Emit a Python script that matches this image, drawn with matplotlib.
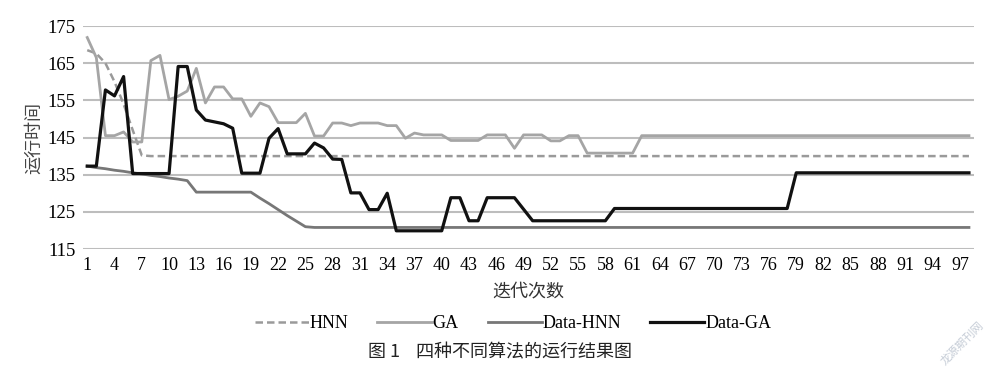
import numpy as np
import matplotlib.pyplot as plt

# iteration index 1..98
iters = np.arange(1, 99)

hnn = [168.5, 167.6, 165.0, 160.0, 154.0, 147.0, 140.2] + [140.0] * 91

ga = [171.9, 166.5, 145.5, 145.5, 146.5, 143.8, 143.8, 165.7, 167.1, 155.2,
      156.1, 157.5, 163.6, 154.3, 158.6, 158.6, 155.4, 155.4, 150.7, 154.3,
      153.3, 149.0, 149.0, 149.0, 151.5, 145.4, 145.4, 148.9, 148.9, 148.2,
      148.9, 148.9, 148.9, 148.2, 148.2, 144.8, 146.2, 145.7, 145.7, 145.7,
      144.2, 144.2, 144.2, 144.2, 145.7, 145.7, 145.7, 142.1, 145.7, 145.7,
      145.7, 144.1, 144.1, 145.5, 145.5, 140.8, 140.8, 140.8, 140.8, 140.8,
      140.8] + [145.5] * 37

data_hnn = [137.3, 136.9, 136.6, 136.2, 135.9, 135.5, 135.2, 134.8, 134.5, 134.1,
            133.8, 133.4, 130.3, 130.3, 130.3, 130.3, 130.3, 130.3, 130.3, 128.7,
            127.2, 125.6, 124.0, 122.5, 121.0] + [120.8] * 73

data_ga = [137.3, 137.3, 157.8, 156.2, 161.4, 135.3, 135.3, 135.3, 135.3, 135.3,
           164.1, 164.1, 152.4, 149.7, 149.2, 148.7, 147.5, 135.4, 135.4, 135.4,
           144.8, 147.4, 140.6, 140.6, 140.6, 143.5, 142.2, 139.2, 139.1, 130.1,
           130.1, 125.6, 125.6, 130.0, 119.9, 119.9, 119.9, 119.9, 119.9, 119.9,
           128.8, 128.8, 122.6, 122.6, 128.8, 128.8, 128.8, 128.8, 125.7, 122.6,
           122.6, 122.6, 122.6, 122.6, 122.6, 122.6, 122.6, 122.6] + [125.9] * 20 + [135.5] * 20

yticks = [115, 125, 135, 145, 155, 165, 175]
xtick_pos = list(range(1, 98, 3))

serif = 'Liberation Serif'
cjk = ['Noto Sans CJK SC', 'DejaVu Sans']

fig = plt.figure(figsize=(10, 3.77), dpi=100)
ax = fig.add_axes([0.0827, 0.3395, 0.8908, 0.5915])

ax.plot(iters, hnn, color='#9a9a9a', lw=1.8, ls=(0, (3, 1.6)), label='HNN')
ax.plot(iters, ga, color='#a5a5a5', lw=2.0, label='GA')
ax.plot(iters, data_hnn, color='#777777', lw=2.0, label='Data-HNN')
ax.plot(iters, data_ga, color='#111111', lw=2.3, label='Data-GA')

ax.set_xlim(0.5, 98.5)
ax.set_ylim(115, 175)
ax.set_yticks(yticks)
ax.set_xticks(xtick_pos)
ax.set_xticklabels([str(v) for v in xtick_pos], fontfamily=serif, fontsize=13)
ax.set_yticklabels([str(v) for v in yticks], fontfamily=serif, fontsize=13.5)
ax.tick_params(axis='x', length=0, pad=6)
ax.tick_params(axis='y', length=0, pad=5)
ax.grid(axis='y', color='#bdbdbd', lw=1.5)
ax.set_axisbelow(True)
for s in ax.spines.values():
    s.set_visible(False)

ax.set_ylabel('运行时间', fontfamily=cjk, fontsize=13, color='#444444', labelpad=3)
ax.set_xlabel('迭代次数', fontfamily=cjk, fontsize=13, color='#333333', labelpad=6)

leg = ax.legend(loc='upper center', bbox_to_anchor=(0.483, -0.225), ncol=4, frameon=False,
                prop={'family': serif, 'size': 13}, handlelength=3.0, handletextpad=0.05,
                columnspacing=1.6)

fig.text(0.5, 0.065, '图 1    四种不同算法的运行结果图', ha='center', va='center',
         fontfamily=cjk, fontsize=13, color='#222222')
fig.text(0.962, 0.09, '龙源期刊网', ha='center', va='center', rotation=45,
         fontfamily=cjk, fontsize=8, color='#c5ccd6')

fig.savefig('out.png', dpi=100)
